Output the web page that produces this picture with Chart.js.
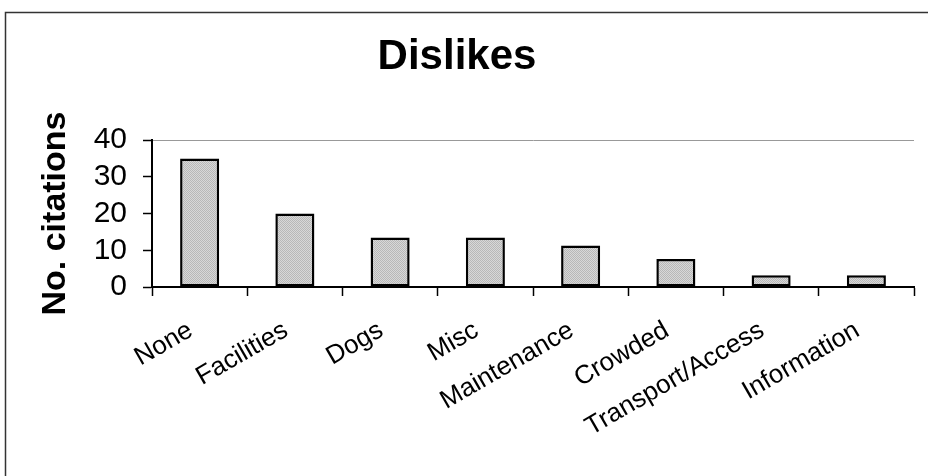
<!DOCTYPE html>
<html>
<head>
<meta charset="utf-8">
<script src="https://cdn.jsdelivr.net/npm/chart.js@4"></script>
<style>
  html, body { margin: 0; padding: 0; background: #fff; }
  #wrap { width: 928px; height: 476px; }
</style>
</head>
<body>
<div id="wrap"><canvas id="dislikes"></canvas></div>
<script>
const categories = ["None", "Facilities", "Dogs", "Misc", "Maintenance", "Crowded", "Transport/Access", "Information"];
const citations = [35, 20, 13.5, 13.5, 11.3, 7.6, 3.2, 3.2];
const yTicks = [0, 10, 20, 30, 40];

// stippled grey fill like the scanned bars
function stipple() {
  const c = document.createElement("canvas");
  c.width = 2;
  c.height = 2;
  const g = c.getContext("2d");
  g.fillStyle = "#d8d8d8";
  g.fillRect(0, 0, 2, 2);
  g.fillStyle = "#b8b8b8";
  g.fillRect(0, 0, 1, 1);
  g.fillRect(1, 1, 1, 1);
  return g.createPattern(c, "repeat");
}

const frame = {
  id: "frame",
  afterDraw(chart) {
    const ctx = chart.ctx;
    ctx.save();
    ctx.strokeStyle = "#333";
    ctx.lineWidth = 1.5;
    ctx.beginPath();
    ctx.moveTo(5.5, 476);
    ctx.lineTo(5.5, 12.5);
    ctx.lineTo(928, 12.5);
    ctx.stroke();
    ctx.restore();
  },
};

new Chart(document.getElementById("dislikes"), {
  type: "bar",
  data: {
    labels: categories,
    datasets: [
      {
        label: "No. citations",
        data: citations,
        backgroundColor: stipple(),
        borderColor: "#000",
        borderWidth: 2.5,
        borderSkipped: false,
        barPercentage: 0.41,
        categoryPercentage: 1,
      },
    ],
  },
  plugins: [frame],
  options: {
    responsive: true,
    maintainAspectRatio: false,
    animation: false,
    layout: { padding: { left: 0, right: 14, top: 0, bottom: 10 } },
    plugins: {
      legend: { display: false },
      tooltip: { enabled: false },
      title: {
        display: true,
        text: "Dislikes",
        color: "#000",
        font: { family: "Liberation Sans, Arial", size: 42, weight: "bold" },
        padding: { top: 32, bottom: 57.6 },
      },
    },
    scales: {
      x: {
        afterFit(scale) {
          scale.height = 179;
        },
        grid: {
          offset: true,
          drawOnChartArea: true,
          color: (ctx) => (ctx.index === categories.length ? "#999" : "rgba(0,0,0,0)"),
          tickColor: "#000",
          tickLength: 9,
          tickWidth: 1.5,
        },
        border: { display: true, color: "#000", width: 2 },
        ticks: {
          color: "#000",
          font: { family: "Liberation Sans, Arial", size: 26 },
          maxRotation: 30,
          minRotation: 30,
          autoSkip: false,
          padding: 19,
          labelOffset: -9,
        },
      },
      y: {
        min: 0,
        max: 40,
        afterFit(scale) {
          scale.width = 152;
        },
        afterBuildTicks(scale) {
          scale.ticks = yTicks.map((v) => ({ value: v }));
        },
        grid: {
          drawOnChartArea: true,
          color: (ctx) => (ctx.tick && ctx.tick.value === 40 ? "#999" : "rgba(0,0,0,0)"),
          tickColor: "#000",
          tickLength: 9,
          tickWidth: 1.5,
        },
        border: { display: true, color: "#000", width: 2 },
        ticks: {
          color: "#000",
          font: { family: "Liberation Sans, Arial", size: 30 },
          padding: 16,
          autoSkip: false,
        },
        title: {
          display: true,
          text: "No. citations",
          color: "#000",
          font: { family: "Liberation Sans, Arial", size: 34, weight: "bold" },
          padding: { top: 35, bottom: 0 },
        },
      },
    },
  },
});
</script>
</body>
</html>
